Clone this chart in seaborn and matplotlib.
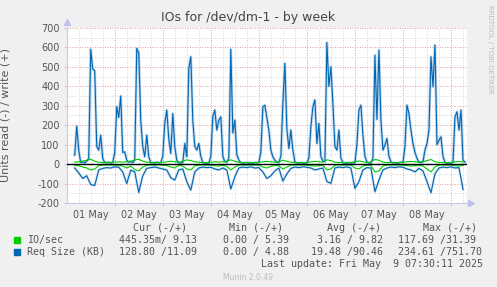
import numpy as np
import pandas as pd
import matplotlib
matplotlib.use("Agg")
import matplotlib.pyplot as plt
import seaborn as sns
from matplotlib.patches import Rectangle

nan = np.nan

# Req Size (KB) write, hourly samples from 01 May 00:00
req_write = [
    nan, nan, nan, nan, 46, 195, 72, 8, 12, 6, 15, 30, 590, 490, 480, 90, 72, 149, 29, 8, 6, 10, 5, 8,
    60, 295, 240, 350, 60, 63, 20, 10, 12, 8, 20, 595, 570, 226, 89, 38, 149, 38, 7, 8, 5, 10, 6, 8,
    40, 210, 278, 130, 55, 260, 89, 20, 6, 5, 8, 106, 38, 492, 552, 226, 90, 72, 106, 40, 8, 5, 6, 5,
    40, 243, 278, 175, 226, 243, 40, 12, 10, 30, 590, 160, 226, 50, 20, 8, 5, 6, 8, 5, 6, 5, 8, 6,
    10, 60, 295, 303, 240, 175, 72, 38, 20, 10, 8, 40, 312, 518, 180, 80, 175, 72, 12, 6, 5, 8, 5, 6,
    6, 30, 192, 295, 330, 106, 209, 40, 15, 12, 625, 400, 500, 312, 90, 72, 175, 30, 8, 6, 5, 8, 5, 6,
    8, 100, 278, 303, 150, 40, 10, 6, 5, 30, 560, 230, 586, 226, 72, 98, 132, 40, 12, 6, 8, 5, 6, 10,
    8, 89, 303, 260, 175, 106, 60, 30, 10, 8, 12, 72, 106, 175, 552, 398, 612, 100, 123, 140, 40, 8,
    5, 6, 5, 10, 243, 269, 175, 278, 20, 10,
]

# Req Size (KB) read, 2-hourly samples (plotted below zero)
req_read = [
    nan, nan, 20, 45, 74, 60, 105, 110, 30, 22, 18, 20,
    14, 16, 40, 100, 31, 40, 146, 60, 22, 18, 15, 20,
    25, 30, 70, 82, 30, 25, 90, 134, 40, 20, 15, 18,
    16, 25, 30, 20, 30, 128, 65, 20, 15, 18, 14, 20,
    18, 40, 74, 60, 35, 20, 87, 50, 22, 15, 18, 14,
    16, 20, 30, 25, 20, 90, 99, 20, 15, 18, 14, 20,
    125, 90, 30, 18, 20, 142, 82, 30, 20, 15, 18, 14,
    16, 25, 30, 40, 22, 35, 90, 147, 50, 20, 15, 18,
    14, 20, 18, 130,
]

# IO/sec write, 2-hourly
io_write = [
    nan, nan, 10, 12, 15, 20, 25, 15, 10, 8, 10, 8,
    10, 12, 10, 12, 15, 22, 25, 15, 10, 8, 9, 8,
    9, 12, 15, 12, 10, 15, 22, 18, 12, 10, 8, 8,
    10, 12, 10, 12, 15, 22, 14, 9, 8, 8, 7, 8,
    9, 12, 14, 12, 10, 12, 20, 14, 10, 8, 8, 7,
    8, 12, 14, 12, 10, 22, 18, 10, 8, 8, 7, 8,
    12, 16, 12, 8, 10, 24, 20, 10, 8, 8, 7, 8,
    9, 12, 14, 12, 10, 12, 18, 24, 12, 9, 8, 8,
    7, 12, 14, 10,
]

# IO/sec read, 2-hourly (plotted below zero)
io_read = [
    nan, nan, 5, 8, 15, 20, 30, 25, 8, 5, 4, 5,
    5, 6, 10, 20, 10, 28, 35, 15, 6, 4, 5, 4,
    5, 8, 15, 20, 6, 10, 25, 30, 10, 5, 4, 5,
    5, 8, 10, 6, 12, 30, 15, 5, 4, 5, 4, 5,
    5, 15, 20, 12, 6, 8, 25, 15, 5, 4, 5, 4,
    5, 8, 10, 8, 6, 30, 25, 6, 4, 5, 4, 5,
    20, 25, 10, 5, 6, 40, 35, 10, 5, 4, 5, 4,
    5, 8, 10, 8, 5, 10, 25, 40, 15, 5, 4, 5,
    4, 8, 10, 6,
]

day_labels = ["01 May", "02 May", "03 May", "04 May", "05 May", "06 May", "07 May", "08 May"]
y_ticks = [-200, -100, 0, 100, 200, 300, 400, 500, 600, 700]

legend_header = ["Cur (-/+)", "Min (-/+)", "Avg (-/+)", "Max (-/+)"]
legend_io = ["IO/sec", "445.35m/ 9.13", "0.00 / 5.39", "3.16 / 9.82", "117.69 /31.39"]
legend_req = ["Req Size (KB)", "128.80 /11.09", "0.00 / 4.88", "19.48 /90.46", "234.61 /751.70"]
last_update = "Last update: Fri May  9 07:30:11 2025"

GREEN = "#00CC00"
BLUE = "#0066B3"
TXT = "#555555"

hours_1h = np.arange(len(req_write))
hours_2h = np.arange(len(req_read)) * 2

df1 = pd.DataFrame({"h": hours_1h, "w": req_write})
df2 = pd.DataFrame({"h": hours_2h, "r": -np.array(req_read, dtype=float),
                    "iw": io_write, "ir": -np.array(io_read, dtype=float)})

W, H = 497, 287
fig = plt.figure(figsize=(W / 100, H / 100), dpi=100, facecolor="#f0f0f0")
L, R, T, B = 66.7, 467.0, 28.0, 203.0
ax = fig.add_axes([L / W, 1 - B / H, (R - L) / W, (B - T) / H])
ax.set_facecolor("white")

# light halo under the blue lines (anti-aliased look of the dense rrd line)
sns.lineplot(data=df1, x="h", y="w", ax=ax, color="#7fb0dc", lw=2.0, alpha=0.5, estimator=None)
sns.lineplot(data=df2, x="h", y="r", ax=ax, color="#7fb0dc", lw=1.8, alpha=0.4, estimator=None)
sns.lineplot(data=df1, x="h", y="w", ax=ax, color=BLUE, lw=0.8, estimator=None)
sns.lineplot(data=df2, x="h", y="r", ax=ax, color=BLUE, lw=0.8, estimator=None)
sns.lineplot(data=df2, x="h", y="iw", ax=ax, color=GREEN, lw=0.8, estimator=None)
sns.lineplot(data=df2, x="h", y="ir", ax=ax, color=GREEN, lw=0.8, estimator=None)
ax.axhline(0, color="black", lw=1.0, zorder=5)

ax.set_xlim(0, 200)
ax.set_ylim(-200, 700)

# grids
ax.set_xticks(np.arange(24, 200, 24))
minor_x = [h for h in range(6, 200, 6) if h % 24 != 0]
ax.set_xticks(minor_x, minor=True)
ax.set_xticklabels([], minor=False)
ax.set_xticklabels([day_labels[h // 24] if h % 24 == 12 else "" for h in minor_x], minor=True)
ax.set_yticks(y_ticks)
ax.set_yticks([v for v in range(-150, 700, 100)], minor=True)
ax.set_yticklabels([str(v) for v in y_ticks])
ax.grid(which="major", color="#e07878", ls=(0, (1, 2)), lw=0.6)
ax.grid(which="minor", color="#c8c8c8", ls=(0, (1, 2)), lw=0.6)
ax.set_axisbelow(True)

for s in ["top", "right"]:
    ax.spines[s].set_visible(False)
for s in ["left", "bottom"]:
    ax.spines[s].set_color("#c8c8ee")
    ax.spines[s].set_linewidth(0.8)

ax.tick_params(axis="both", which="major", length=2, color="#c8c8ee", labelsize=7,
               labelcolor=TXT, pad=3)
ax.tick_params(axis="x", which="minor", length=0, labelsize=7, labelcolor=TXT, pad=5)
ax.tick_params(axis="y", which="minor", length=0)
ax.set_xlabel("")
ax.set_ylabel("Units read (-) / write (+)", fontsize=8, color=TXT)
ax.yaxis.set_label_coords((11 - L) / (R - L), 0.5)

# axis arrows
ax.plot([0], [1 + 6 / (B - T)], marker="^", ms=4, color="#c0c0f0", transform=ax.transAxes, clip_on=False)
ax.plot([1 + 4 / (R - L)], [0], marker=">", ms=4, color="#c0c0f0", transform=ax.transAxes, clip_on=False)

def ft(x, y, s, **kw):
    fig.text(x / W, 1 - y / H, s, **kw)

ft(248.5, 17, "IOs for /dev/dm-1 - by week", ha="center", va="center", fontsize=9, color="#444444")
ft(490, 5, "RRDTOOL / TOBI OETIKER", ha="center", va="top", rotation=270, fontsize=5, color="#bbbbbb")

mono = dict(family="DejaVu Sans Mono", fontsize=7.2, color=TXT, va="center")
for x, s in zip([133, 229, 327, 423], legend_header):
    ft(x, 228, s, **mono)
for x, s in zip([26.7, 119, 223, 317, 398], legend_io):
    ft(x, 240, s, **mono)
for x, s in zip([26.7, 119, 223, 311, 398], legend_req):
    ft(x, 252, s, **mono)
ft(483, 264, last_update, ha="right", **mono)
ft(223, 277, "Munin 2.0.49", fontsize=5.5, color="#bbbbbb", va="center")

fig.patches.append(Rectangle((14 / W, 1 - 243 / H), 6 / W, 6 / H, transform=fig.transFigure,
                             color=GREEN, figure=fig))
fig.patches.append(Rectangle((14 / W, 1 - 255 / H), 6 / W, 6 / H, transform=fig.transFigure,
                             color=BLUE, figure=fig))

fig.savefig("out.png", dpi=100, facecolor=fig.get_facecolor())
